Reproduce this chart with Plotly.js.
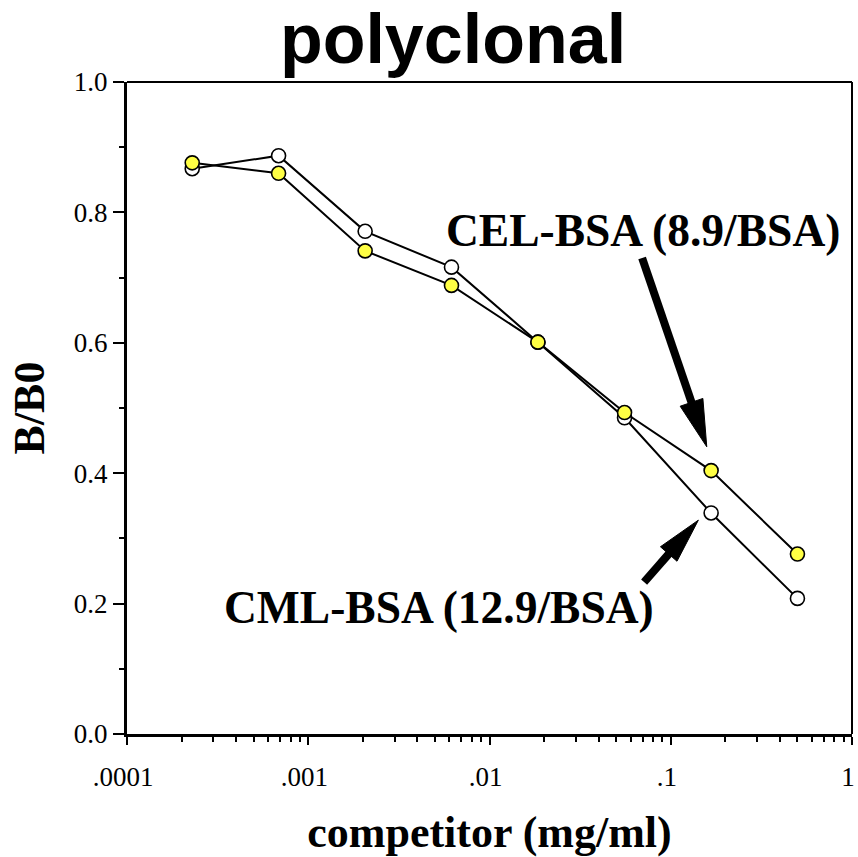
<!DOCTYPE html>
<html>
<head>
<meta charset="utf-8">
<script src="https://cdn.plot.ly/plotly-3.0.1.min.js"></script>
<style>html,body{margin:0;padding:0;background:#fff;}#chart{width:858px;height:857px;}</style>
</head>
<body>
<div id="chart"></div>
<script>
// ---- data ----
const competitor = [0.000229, 0.000686, 0.00206, 0.00617, 0.0185, 0.0556, 0.167, 0.5];
const celBSA = [0.876, 0.860, 0.741, 0.688, 0.601, 0.493, 0.404, 0.276];
const cmlBSA = [0.867, 0.887, 0.771, 0.716, 0.601, 0.485, 0.339, 0.208];
const xTickVals = [0.0001, 0.001, 0.01, 0.1, 1];
const xTickText = ['.0001', '.001', '.01', '.1', '1'];
const celLabel = 'CEL-BSA (8.9/BSA)';
const cmlLabel = 'CML-BSA (12.9/BSA)';
// arrow endpoints in data units: [tailX, tailY, tipX, tipY]
const celArrow = [0.0695, 0.730, 0.158, 0.4405];
const cmlArrow = [0.0713, 0.233, 0.142, 0.328];

// ---- layout geometry ----
const W = 858, H = 857;
const M = {l: 127, r: 6, t: 82, b: 123};
const PW = W - M.l - M.r, PH = H - M.t - M.b;
const XR = [-4, 0], YR = [0, 1];

function dataToPx(x, y) {
  const px = M.l + (Math.log10(x) - XR[0]) / (XR[1] - XR[0]) * PW;
  const py = M.t + PH - (y - YR[0]) / (YR[1] - YR[0]) * PH;
  return [px, py];
}
function pxToPaper(px, py) {
  return [(px - M.l) / PW, (M.t + PH - py) / PH];
}
function arrowShapes(a, headLen, headHalf, shaftW) {
  const [tx, ty] = dataToPx(a[0], a[1]);
  const [hx, hy] = dataToPx(a[2], a[3]);
  const dx = hx - tx, dy = hy - ty, len = Math.hypot(dx, dy);
  const ux = dx / len, uy = dy / len, nx = -uy, ny = ux;
  const bx = hx - headLen * ux, by = hy - headLen * uy;
  const p = (X, Y) => pxToPaper(X, Y).join(',');
  const sx = bx + 4 * ux, sy = by + 4 * uy;
  return [
    {type: 'line', xref: 'paper', yref: 'paper',
     x0: pxToPaper(tx, ty)[0], y0: pxToPaper(tx, ty)[1],
     x1: pxToPaper(sx, sy)[0], y1: pxToPaper(sx, sy)[1],
     line: {color: 'black', width: shaftW}},
    {type: 'path', xref: 'paper', yref: 'paper',
     path: 'M' + p(hx, hy) + ' L' + p(bx + headHalf * nx, by + headHalf * ny) +
           ' L' + p(bx - headHalf * nx, by - headHalf * ny) + ' Z',
     fillcolor: 'black', line: {color: 'black', width: 1}}
  ];
}

// minor ticks on the log axis
const xMinor = [];
for (let d = -4; d < 0; d++) for (let k = 2; k <= 9; k++) xMinor.push(k * Math.pow(10, d));

const serif = 'Liberation Serif, Times New Roman, serif';

const traces = [
  {x: competitor, y: cmlBSA, type: 'scatter', mode: 'lines+markers', name: cmlLabel,
   line: {color: 'black', width: 2},
   marker: {size: 14, color: 'white', line: {color: 'black', width: 1.6}}},
  {x: competitor, y: celBSA, type: 'scatter', mode: 'lines+markers', name: celLabel,
   line: {color: 'black', width: 2},
   marker: {size: 14, color: '#ffff44', line: {color: 'black', width: 1.6}}}
];

const layout = {
  width: W, height: H,
  margin: M,
  showlegend: false,
  paper_bgcolor: 'white', plot_bgcolor: 'white',
  title: {text: 'polyclonal', font: {family: 'Liberation Sans, Arial, sans-serif', size: 70, color: 'black', weight: 'bold'},
          x: 453 / W, xref: 'container', xanchor: 'center', y: 1 - 38 / H, yref: 'container', yanchor: 'middle'},
  xaxis: {type: 'log', range: XR, autorange: false,
          tickmode: 'array', tickvals: xTickVals, ticktext: xTickText,
          ticks: 'outside', ticklen: 8, tickwidth: 2, tickcolor: 'black',
          ticklabelstandoff: 9, ticklabeloverflow: 'allow', ticklabelshift: -4,
          minor: {tickmode: 'array', tickvals: xMinor, ticks: 'outside', ticklen: 5, tickwidth: 2, tickcolor: 'black', showgrid: false},
          showline: true, linewidth: 3, linecolor: 'black', showgrid: false, zeroline: false,
          tickfont: {family: serif, size: 27, color: 'black'},
          title: {text: 'competitor (mg/ml)', font: {family: serif, size: 44, color: 'black', weight: 'bold'}, standoff: 28}},
  yaxis: {range: YR, autorange: false, dtick: 0.2, tick0: 0, tickformat: '.1f',
          ticks: 'outside', ticklen: 11, tickwidth: 2, tickcolor: 'black',
          minor: {dtick: 0.1, ticks: 'outside', ticklen: 5, tickwidth: 2, tickcolor: 'black', showgrid: false},
          showline: true, linewidth: 3, linecolor: 'black', showgrid: false, zeroline: false,
          tickfont: {family: serif, size: 27, color: 'black'},
          title: {text: 'B/B0', font: {family: serif, size: 44, color: 'black', weight: 'bold'}, standoff: 16}},
  shapes: [
    {type: 'line', xref: 'paper', yref: 'paper', x0: 0, x1: 1, y0: 1, y1: 1, line: {color: 'black', width: 2}},
    {type: 'line', xref: 'paper', yref: 'paper', x0: 1, x1: 1, y0: 0, y1: 1, line: {color: 'black', width: 2}},
    ...arrowShapes(celArrow, 47, 12, 8),
    ...arrowShapes(cmlArrow, 45, 11, 8)
  ],
  annotations: [
    {text: celLabel, xref: 'paper', yref: 'paper', x: pxToPaper(643, 230)[0], y: pxToPaper(643, 230)[1],
     xanchor: 'center', yanchor: 'middle', showarrow: false,
     font: {family: serif, size: 45.5, color: 'black', weight: 'bold'}},
    {text: cmlLabel, xref: 'paper', yref: 'paper', x: pxToPaper(439, 607)[0], y: pxToPaper(439, 607)[1],
     xanchor: 'center', yanchor: 'middle', showarrow: false,
     font: {family: serif, size: 45.5, color: 'black', weight: 'bold'}}
  ]
};

Plotly.newPlot('chart', traces, layout, {displayModeBar: false, staticPlot: true});
</script>
</body>
</html>
